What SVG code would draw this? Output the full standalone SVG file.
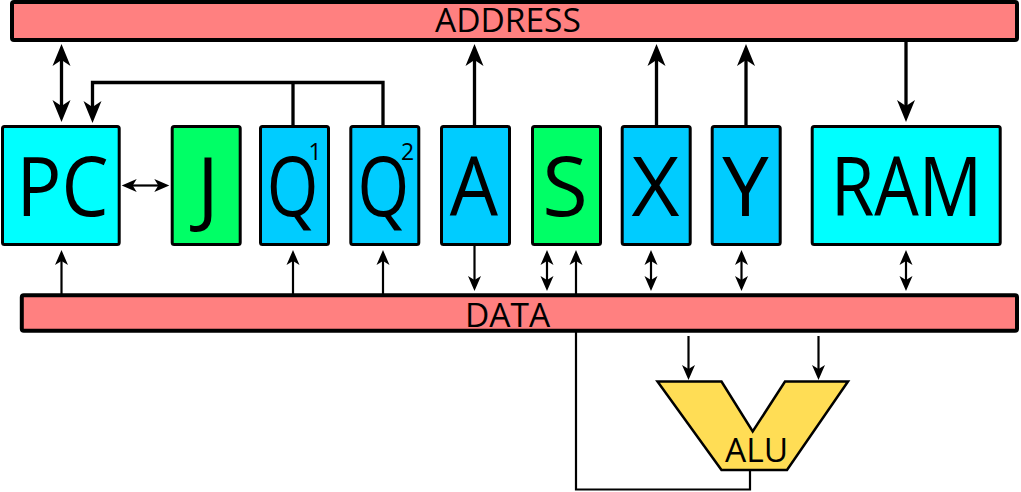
<svg xmlns="http://www.w3.org/2000/svg" width="1021" height="492" viewBox="0 0 1021 492">
<style>
.bus{fill:#ff8080;stroke:#000;stroke-width:4}
.box{stroke:#000;stroke-width:3}
.cyan{fill:#00ffff}
.green{fill:#00ff66}
.blue{fill:#00ccff}
.alu{fill:#ffdd55;stroke:#000;stroke-width:2.5;stroke-linejoin:miter}
.big{font-family:"Open Sans","Noto Sans",sans-serif;font-size:83px;fill:#000;text-anchor:middle}
.sup{font-family:"Open Sans","Noto Sans",sans-serif;font-size:23px;fill:#000;text-anchor:middle}
.lbl{font-family:"Open Sans","Noto Sans",sans-serif;font-size:33.5px;fill:#000}
.thick{fill:none;stroke:#000;stroke-width:3.3}
.thin{fill:none;stroke:#000;stroke-width:2.2}
</style>
<defs>
<marker id="ahb" markerUnits="userSpaceOnUse" markerWidth="26" markerHeight="20" refX="7" refY="9" orient="auto-start-reverse" overflow="visible"><path d="M22,9 L0,0 L6,9 L0,18 Z" fill="#000"/></marker>
<marker id="ahs" markerUnits="userSpaceOnUse" markerWidth="18" markerHeight="14" refX="5" refY="6.5" orient="auto-start-reverse" overflow="visible"><path d="M15,6.5 L0,0 L4,6.5 L0,13 Z" fill="#000"/></marker>
</defs>
<g id="connectors">
<line class="thick" x1="61.5" y1="59" x2="61.5" y2="107" marker-start="url(#ahb)" marker-end="url(#ahb)"/>
<path class="thick" d="M293,126 V82.5"/>
<path class="thick" d="M383,126 V82.5 H92.5 V108" marker-end="url(#ahb)"/>
<path class="thick" d="M474.5,126 V59" marker-end="url(#ahb)"/>
<path class="thick" d="M656.5,126 V59" marker-end="url(#ahb)"/>
<path class="thick" d="M746,126 V59" marker-end="url(#ahb)"/>
<path class="thick" d="M906,41 V107" marker-end="url(#ahb)"/>
<line class="thin" x1="131.7" y1="185.5" x2="159.3" y2="185.5" marker-start="url(#ahs)" marker-end="url(#ahs)"/>
<path class="thin" d="M61.5,294 V260" marker-end="url(#ahs)"/>
<path class="thin" d="M293,294 V260" marker-end="url(#ahs)"/>
<path class="thin" d="M383,294 V260" marker-end="url(#ahs)"/>
<path class="thin" d="M474.5,245 V281" marker-end="url(#ahs)"/>
<line class="thin" x1="547" y1="260" x2="547" y2="281" marker-start="url(#ahs)" marker-end="url(#ahs)"/>
<path class="thin" d="M750,471 V489.5 H576 V260" marker-end="url(#ahs)"/>
<line class="thin" x1="651" y1="260" x2="651" y2="281" marker-start="url(#ahs)" marker-end="url(#ahs)"/>
<line class="thin" x1="741.5" y1="260" x2="741.5" y2="281" marker-start="url(#ahs)" marker-end="url(#ahs)"/>
<line class="thin" x1="906" y1="260" x2="906" y2="281" marker-start="url(#ahs)" marker-end="url(#ahs)"/>
<path class="thin" d="M688.5,336 V370" marker-end="url(#ahs)"/>
<path class="thin" d="M818.5,336 V370" marker-end="url(#ahs)"/>
</g>
<g id="address">
<rect class="bus" x="12" y="2" width="1005" height="38" rx="2"/>
<text class="lbl" x="435" y="32">ADDRESS</text>
</g>
<g id="data">
<rect class="bus" x="21.8" y="295.3" width="995.2" height="35.4" rx="2"/>
<text class="lbl" x="465" y="327">DATA</text>
</g>
<g id="pc">
<rect class="box cyan" x="2.5" y="126.5" width="116.7" height="118" rx="2"/>
<text class="big" transform="translate(62.5,215.5) scale(0.9,1)">PC</text>
</g>
<g id="j">
<rect class="box green" x="172.2" y="126.5" width="68" height="118" rx="2"/>
<text class="big" x="208" y="215.5">J</text>
</g>
<g id="q1">
<rect class="box blue" x="260.5" y="126.5" width="68" height="118" rx="2"/>
<text class="big" transform="translate(292.5,215.5) scale(0.8,1)">Q</text>
<text class="sup" x="315" y="160">1</text>
</g>
<g id="q2">
<rect class="box blue" x="350.8" y="126.5" width="68" height="118" rx="2"/>
<text class="big" transform="translate(383.3,215.5) scale(0.8,1)">Q</text>
<text class="sup" x="407.5" y="160">2</text>
</g>
<g id="a">
<rect class="box blue" x="441.5" y="126.5" width="68" height="118" rx="2"/>
<text class="big" transform="translate(474,215.5) scale(0.92,1)">A</text>
</g>
<g id="s">
<rect class="box green" x="532.5" y="126.5" width="68" height="118" rx="2"/>
<text class="big" x="565" y="215.5">S</text>
</g>
<g id="x">
<rect class="box blue" x="622.2" y="126.5" width="68" height="118" rx="2"/>
<text class="big" x="655.5" y="215.5">X</text>
</g>
<g id="y">
<rect class="box blue" x="712.2" y="126.5" width="68" height="118" rx="2"/>
<text class="big" x="745.5" y="215.5">Y</text>
</g>
<g id="ram">
<rect class="box cyan" x="812.2" y="126.5" width="188" height="118" rx="2"/>
<text class="big" transform="translate(906.5,215.5) scale(0.85,1)">RAM</text>
</g>
<g id="alu">
<polygon class="alu" points="657.5,381.5 721.5,381.5 752.7,431.5 785,381.5 848,381.5 787,470 721.5,470"/>
<text class="lbl" x="725" y="461.5">ALU</text>
</g>
</svg>
